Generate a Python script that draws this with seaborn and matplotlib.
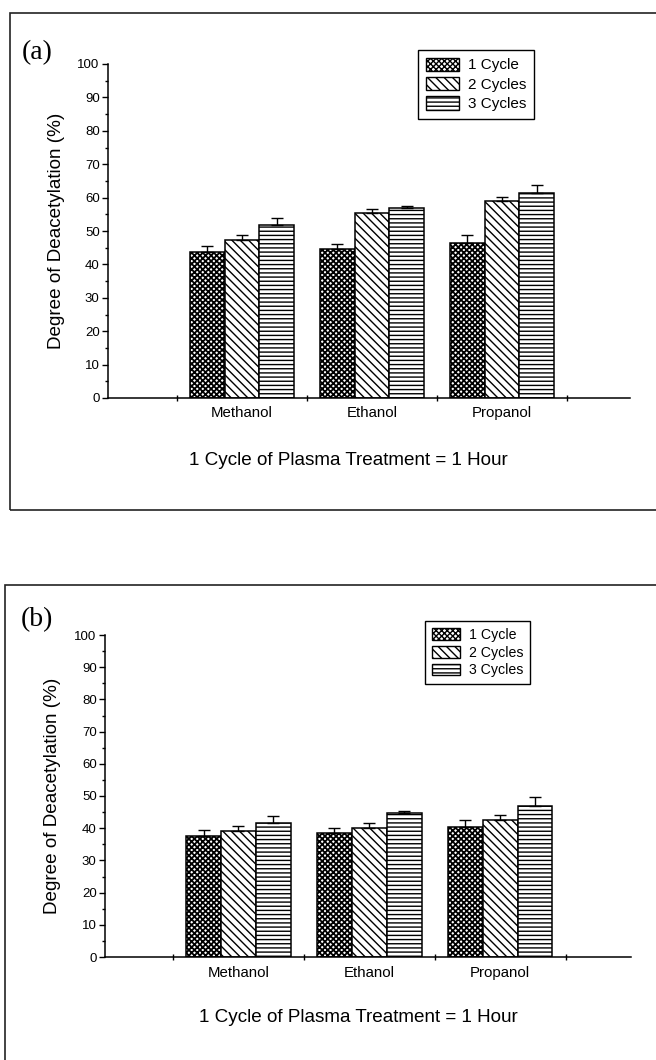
import numpy as np
import pandas as pd
import matplotlib
matplotlib.use("Agg")
import matplotlib.pyplot as plt
import seaborn as sns
from matplotlib.patches import Patch, Rectangle
from matplotlib.ticker import MultipleLocator

# ---------------- data ----------------
categories = ["Methanol", "Ethanol", "Propanol"]
series = ["1 Cycle", "2 Cycles", "3 Cycles"]

# panel (a)
a_1cycle = [43.6, 44.5, 46.5]
a_2cycles = [47.2, 55.3, 59.0]
a_3cycles = [51.8, 56.9, 61.3]
a_err_1cycle = [2.0, 1.6, 2.2]
a_err_2cycles = [1.5, 1.3, 1.3]
a_err_3cycles = [2.0, 0.5, 2.6]

# panel (b)
b_1cycle = [37.7, 38.4, 40.5]
b_2cycles = [39.0, 40.1, 42.6]
b_3cycles = [41.6, 44.7, 47.0]
b_err_1cycle = [1.8, 1.6, 2.2]
b_err_2cycles = [1.6, 1.5, 1.5]
b_err_3cycles = [2.1, 0.5, 2.6]

yticks = [0, 10, 20, 30, 40, 50, 60, 70, 80, 90, 100]
ylabel_text = "Degree of Deacetylation (%)"
xlabel_text = "1 Cycle of Plasma Treatment = 1 Hour"
panel_labels = ["(a)", "(b)"]
hatches = ["xxxxxx", "\\\\\\\\", "----"]
hatch_widths = [1.3, 1.0, 1.0]

# ---------------- style ----------------
sns.set_style("ticks")
plt.rcParams["font.family"] = ["Liberation Sans", "DejaVu Sans"]
for k in ["axes.edgecolor", "xtick.color", "ytick.color", "text.color", "axes.labelcolor"]:
    plt.rcParams[k] = "black"
plt.rcParams["hatch.linewidth"] = 1.0
plt.rcParams["hatch.color"] = "black"

W, H = 656, 1060
fig = plt.figure(figsize=(W / 100, H / 100), dpi=100)
fig.patch.set_facecolor("white")


def set_hw(patch, w):
    try:
        patch.set_hatch_linewidth(w)
    except Exception:
        pass


def long_df(v1, v2, v3):
    rows = []
    for s, vals in zip(series, [v1, v2, v3]):
        for c, v in zip(categories, vals):
            rows.append({"solvent": c, "cycles": s, "value": v})
    return pd.DataFrame(rows)


def px_axes(left, right, y0, y100):
    return [left / W, 1 - y0 / H, (right - left) / W, (y0 - y100) / H]


def draw_panel(rect, df, errs, xlim, leg_anchor, leg_font, leg_hl, leg_hh, leg_ls,
               xl_coords, yl_x, xt_pad):
    ax = fig.add_axes(rect)
    sns.barplot(data=df, x="solvent", y="value", hue="cycles", order=categories,
                hue_order=series, palette=["white"] * 3, saturation=1,
                edgecolor="black", linewidth=1.1, errorbar=None, legend=False,
                width=0.8, ax=ax)
    for cont, h, hw, elist in zip(ax.containers, hatches, hatch_widths, errs):
        for patch, e in zip(cont.patches, elist):
            patch.set_hatch(h)
            set_hw(patch, hw)
            xc = patch.get_x() + patch.get_width() / 2
            ax.errorbar(xc, patch.get_height(), yerr=[[0], [e]], fmt="none",
                        ecolor="black", elinewidth=1.0, capsize=4.5, capthick=1.0,
                        zorder=3)
    ax.set_xlim(*xlim)
    ax.set_ylim(0, 100)
    ax.set_yticks(yticks)
    ax.yaxis.set_minor_locator(MultipleLocator(5))
    ax.set_xticks(range(len(categories)))
    ax.set_xticklabels(categories)
    ax.set_xticks([i - 0.5 for i in range(len(categories) + 1)], minor=True)
    ax.tick_params(axis="x", which="major", length=0, pad=xt_pad, labelsize=10.8)
    ax.tick_params(axis="x", which="minor", direction="inout", length=5, width=1)
    ax.tick_params(axis="y", which="major", direction="out", length=4, width=1,
                   labelsize=9.5, pad=2)
    ax.tick_params(axis="y", which="minor", direction="out", length=2.5, width=1)
    sns.despine(ax=ax)
    ax.spines["left"].set_linewidth(1.1)
    ax.spines["bottom"].set_linewidth(1.1)
    ax.set_facecolor("none")

    ax.set_ylabel(ylabel_text, fontsize=13.6)
    ax.yaxis.set_label_coords(yl_x, 0.5)
    ax.yaxis.label.set_va("center")
    ax.set_xlabel(xlabel_text, fontsize=13.6)
    ax.xaxis.set_label_coords(*xl_coords)
    ax.xaxis.label.set_va("center")

    handles = []
    for h, hw in zip(hatches, hatch_widths):
        p = Patch(facecolor="white", edgecolor="black", hatch=h, linewidth=1.0)
        set_hw(p, hw)
        handles.append(p)
    leg = ax.legend(handles, series, loc="upper left", bbox_to_anchor=leg_anchor,
                    fontsize=leg_font, frameon=True, fancybox=False, shadow=False,
                    framealpha=1, edgecolor="black", borderpad=0.5,
                    handlelength=leg_hl, handleheight=leg_hh, handletextpad=0.6,
                    labelspacing=leg_ls, borderaxespad=0)
    leg.get_frame().set_linewidth(1.0)
    return ax


# panel (a)
ax_a = draw_panel(px_axes(108, 630, 398, 64),
                  long_df(a_1cycle, a_2cycles, a_3cycles),
                  [a_err_1cycle, a_err_2cycles, a_err_3cycles],
                  (-1.03, 2.985), (0.594, 1.042), 11, 2.2, 0.95, 0.3,
                  (0.46, -0.186), -0.098, 5.5)

# panel (b)
ax_b = draw_panel(px_axes(105, 631, 957, 635),
                  long_df(b_1cycle, b_2cycles, b_3cycles),
                  [b_err_1cycle, b_err_2cycles, b_err_3cycles],
                  (-1.02, 3.0), (0.608, 1.043), 10.2, 2.0, 0.9, 0.25,
                  (0.481, -0.189), -0.10, 6.5)

# panel frames
fig.add_artist(Rectangle((10 / W, 1 - 510 / H), (700 - 10) / W, (510 - 13) / H,
                         transform=fig.transFigure, fill=False, edgecolor="#222222",
                         linewidth=1.2, clip_on=False))
fig.add_artist(Rectangle((5 / W, 1 - 1080 / H), (700 - 5) / W, (1080 - 585) / H,
                         transform=fig.transFigure, fill=False, edgecolor="#222222",
                         linewidth=1.2, clip_on=False))

# panel letters
fig.text(37 / W, 1 - 53 / H, panel_labels[0], fontsize=20,
         family=["Liberation Serif", "DejaVu Serif"], ha="center", va="center")
fig.text(37 / W, 1 - 620 / H, panel_labels[1], fontsize=20,
         family=["Liberation Serif", "DejaVu Serif"], ha="center", va="center")

fig.savefig("out.png", dpi=100, facecolor="white")
